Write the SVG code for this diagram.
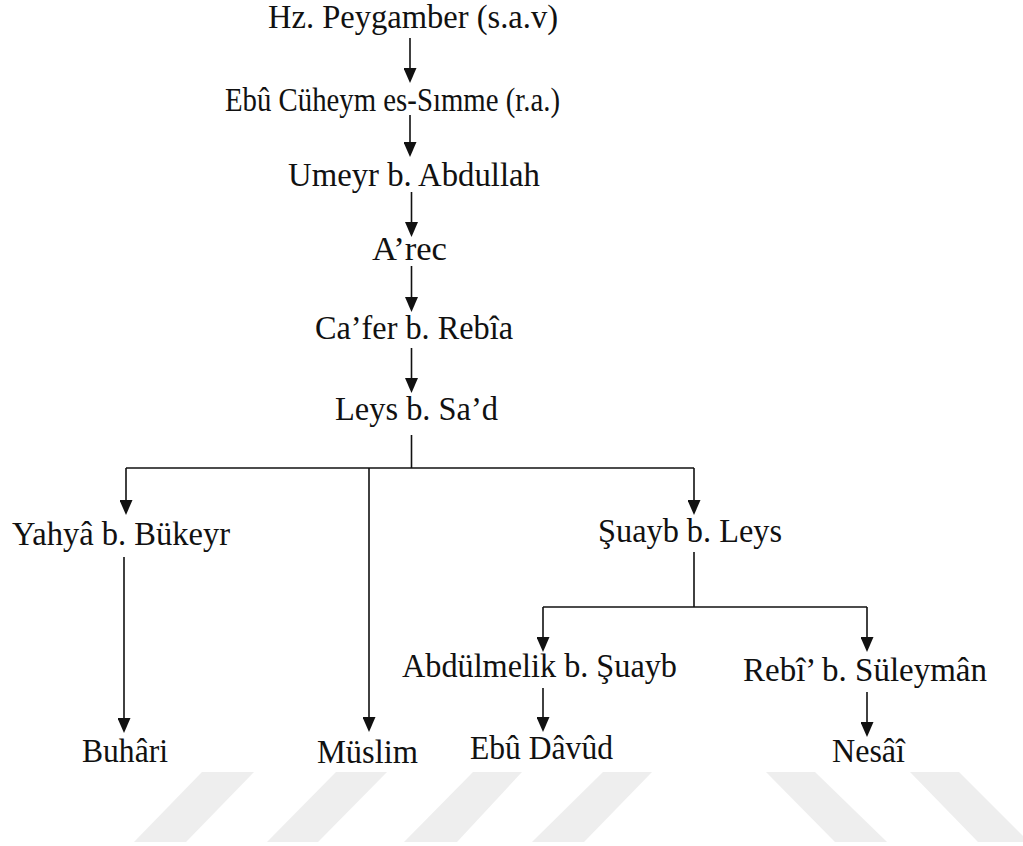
<svg xmlns="http://www.w3.org/2000/svg" width="1023" height="846" viewBox="0 0 1023 846">
  <defs>
    <style>
      .lbl { font-family: "Liberation Serif", "Times New Roman", serif; font-size: 33px; fill: #111; text-anchor: middle; }
      .ln { stroke: #111; stroke-width: 1.6; fill: none; }
      .arr { marker-end: url(#head); }
      .wm { fill: #eeeeee; }
    </style>
    <marker id="head" viewBox="0 0 15 13" refX="10" refY="6.5" markerWidth="15" markerHeight="13" markerUnits="userSpaceOnUse" orient="auto">
      <path d="M0,0 L15,6.5 L0,13 Z" fill="#111"/>
    </marker>
  </defs>
  <rect width="1023" height="846" fill="#ffffff"/>

  <!-- faint background stripes along the lower edge -->
  <g id="backdrop">
    <polygon class="wm" points="202,772 254,772 186,842 134,842"/>
    <polygon class="wm" points="336,772 387,772 318,842 267,842"/>
    <polygon class="wm" points="473,772 522,772 457,842 404,842"/>
    <polygon class="wm" points="603,772 652,772 584,842 532,842"/>
    <polygon class="wm" points="766,772 815,772 887,842 835,842"/>
    <polygon class="wm" points="910,772 959,772 1029,842 978,842"/>
  </g>

  <g id="connectors">
    <line class="ln arr" x1="410" y1="38" x2="410" y2="78"/>
    <line class="ln arr" x1="410" y1="115" x2="410" y2="152"/>
    <line class="ln arr" x1="411.5" y1="192" x2="411.5" y2="232"/>
    <line class="ln arr" x1="411.5" y1="266" x2="411.5" y2="307"/>
    <line class="ln arr" x1="411.5" y1="348" x2="411.5" y2="388"/>
    <!-- split below Leys b. Sa'd -->
    <line class="ln" x1="411.5" y1="435" x2="411.5" y2="468"/>
    <polyline class="ln" points="126,468 694,468"/>
    <line class="ln arr" x1="126" y1="468" x2="126" y2="510"/>
    <line class="ln arr" x1="369" y1="468" x2="369" y2="727"/>
    <line class="ln arr" x1="694" y1="468" x2="694" y2="510"/>
    <line class="ln arr" x1="124" y1="557" x2="124" y2="728"/>
    <!-- split below Şuayb b. Leys -->
    <line class="ln" x1="694" y1="552" x2="694" y2="607"/>
    <polyline class="ln" points="543,607 867,607"/>
    <line class="ln arr" x1="543" y1="607" x2="543" y2="647"/>
    <line class="ln arr" x1="867" y1="607" x2="867" y2="647"/>
    <line class="ln arr" x1="543" y1="688" x2="543" y2="727"/>
    <line class="ln arr" x1="867" y1="692" x2="867" y2="732"/>
  </g>

  <g id="n-peygamber"><text class="lbl" x="413" y="28" textLength="290" lengthAdjust="spacingAndGlyphs">Hz. Peygamber (s.a.v)</text></g>
  <g id="n-ebu-cuheym"><text class="lbl" x="392.5" y="111" textLength="335" lengthAdjust="spacingAndGlyphs">Ebû Cüheym es-Sımme (r.a.)</text></g>
  <g id="n-umeyr"><text class="lbl" x="414" y="186" textLength="252" lengthAdjust="spacingAndGlyphs">Umeyr b. Abdullah</text></g>
  <g id="n-arec"><text class="lbl" x="409.5" y="260" textLength="75" lengthAdjust="spacingAndGlyphs">A’rec</text></g>
  <g id="n-cafer"><text class="lbl" x="414" y="339" textLength="198" lengthAdjust="spacingAndGlyphs">Ca’fer b. Rebîa</text></g>
  <g id="n-leys"><text class="lbl" x="416.5" y="420" textLength="163" lengthAdjust="spacingAndGlyphs">Leys b. Sa’d</text></g>
  <g id="n-yahya"><text class="lbl" x="121" y="545" textLength="218" lengthAdjust="spacingAndGlyphs">Yahyâ b. Bükeyr</text></g>
  <g id="n-suayb"><text class="lbl" x="690" y="542" textLength="184" lengthAdjust="spacingAndGlyphs">Şuayb b. Leys</text></g>
  <g id="n-abdulmelik"><text class="lbl" x="539.5" y="677" textLength="275" lengthAdjust="spacingAndGlyphs">Abdülmelik b. Şuayb</text></g>
  <g id="n-rebi"><text class="lbl" x="865" y="681" textLength="244" lengthAdjust="spacingAndGlyphs">Rebî’ b. Süleymân</text></g>
  <g id="n-buhari"><text class="lbl" x="125" y="762" textLength="86" lengthAdjust="spacingAndGlyphs">Buhâri</text></g>
  <g id="n-muslim"><text class="lbl" x="367.5" y="763" textLength="101" lengthAdjust="spacingAndGlyphs">Müslim</text></g>
  <g id="n-ebu-davud"><text class="lbl" x="541.5" y="759" textLength="143" lengthAdjust="spacingAndGlyphs">Ebû Dâvûd</text></g>
  <g id="n-nesai"><text class="lbl" x="868.5" y="762" textLength="73" lengthAdjust="spacingAndGlyphs">Nesâî</text></g>
</svg>
